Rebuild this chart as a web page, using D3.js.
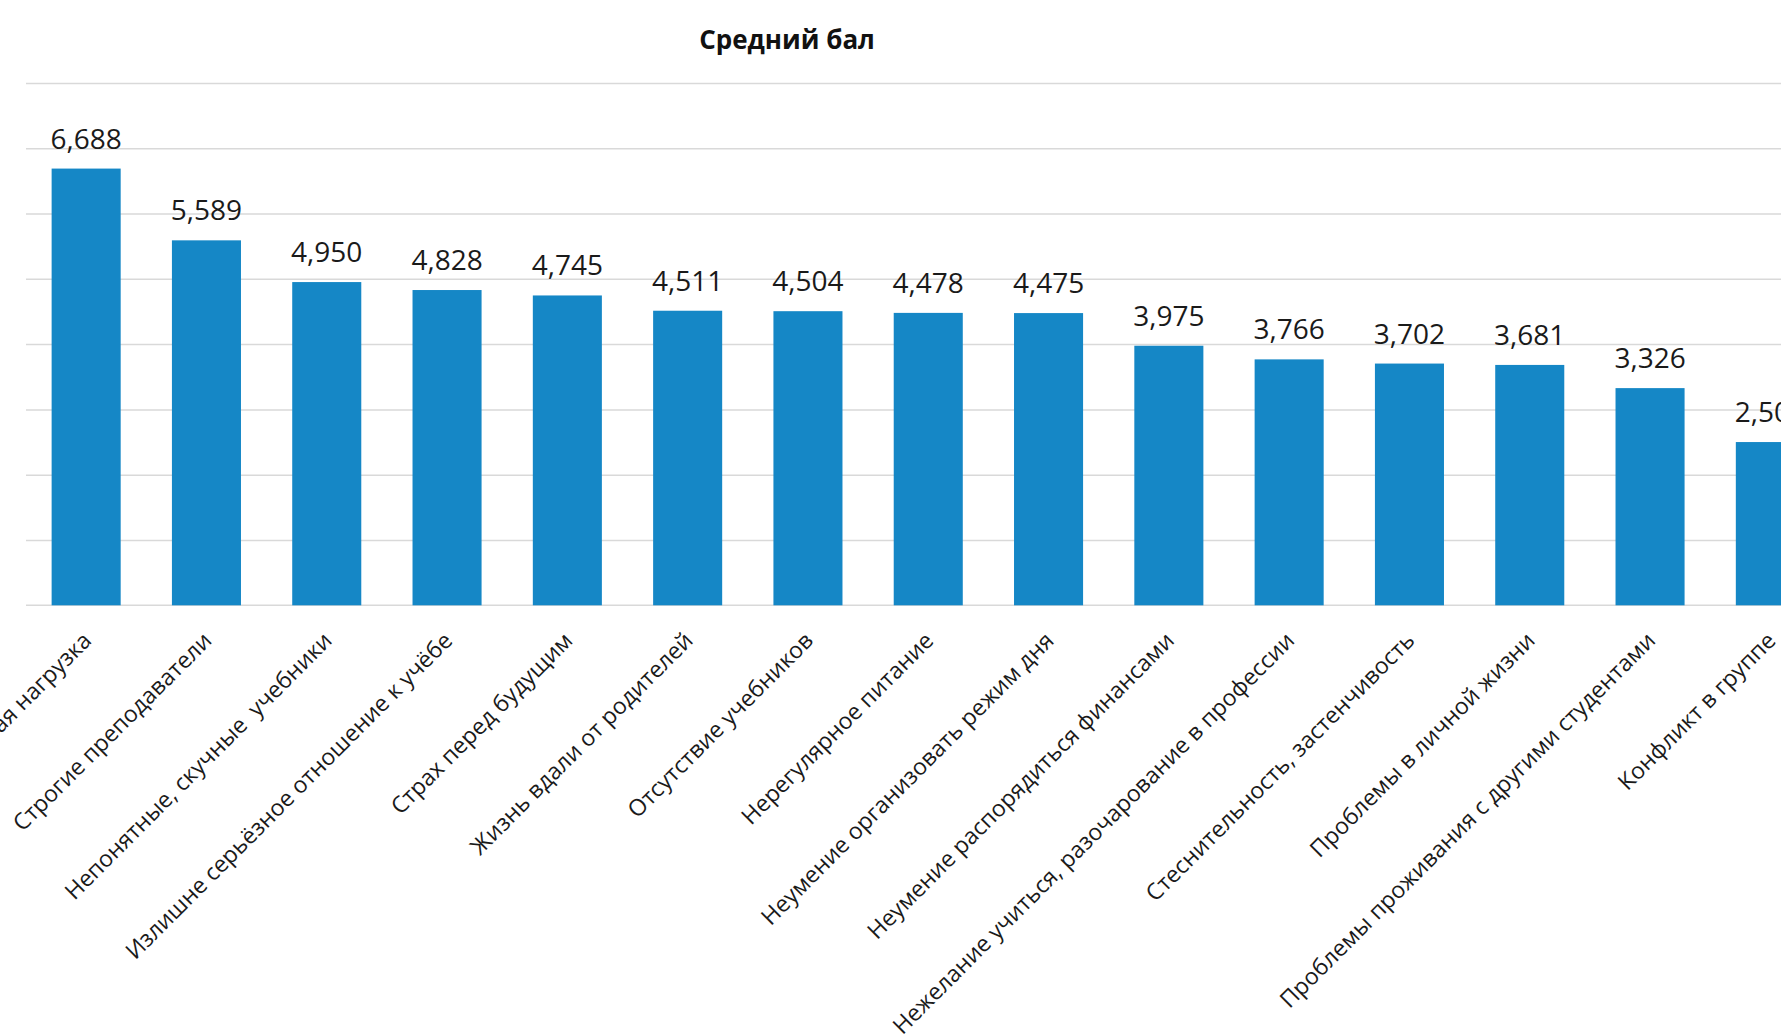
<!DOCTYPE html>
<html>
<head>
<meta charset="utf-8">
<script src="https://cdn.jsdelivr.net/npm/d3@7"></script>
<style>
  body { margin: 0; background: #fff; }
  svg { display: block; }
  text { font-family: "Open Sans", "Noto Sans", sans-serif; }
</style>
</head>
<body>
<svg id="chart" width="1781" height="1034"></svg>
<script>
const categories = [
  "Учебная нагрузка",
  "Строгие преподаватели",
  "Непонятные, скучные  учебники",
  "Излишне серьёзное отношение к учёбе",
  "Страх перед будущим",
  "Жизнь вдали от родителей",
  "Отсутствие учебников",
  "Нерегулярное питание",
  "Неумение организовать режим дня",
  "Неумение распорядиться финансами",
  "Нежелание учиться, разочарование в профессии",
  "Стеснительность, застенчивость",
  "Проблемы в личной жизни",
  "Проблемы проживания с другими студентами",
  "Конфликт в группе",
];
const values = [6.688, 5.589, 4.95, 4.828, 4.745, 4.511, 4.504, 4.478, 4.475, 3.975, 3.766, 3.702, 3.681, 3.326, 2.5];
const gridTicks = [1, 2, 3, 4, 5, 6, 7, 8];
const title = "Средний бал";

const data = categories.map((c, i) => ({ name: c, value: values[i] }));

const svg = d3.select("#chart");

const x0 = 26;
const step = 120.3;
const xScale = d3
  .scaleBand()
  .domain(categories)
  .range([x0, x0 + step * categories.length])
  .paddingInner(0.426)
  .paddingOuter(0.213);

const yScale = d3.scaleLinear().domain([0, 8]).range([605.3, 82.9]);

// horizontal grid lines
const grid = svg
  .append("g")
  .attr("transform", `translate(${x0}, 0)`)
  .call(d3.axisLeft(yScale).tickValues(gridTicks).tickSize(-(1781 - x0)).tickFormat(""));
grid.select(".domain").remove();
grid.selectAll(".tick line").attr("stroke", "#d9d9d9").attr("stroke-width", 1.5);

// category axis
const xAxis = svg
  .append("g")
  .attr("transform", `translate(0, ${yScale(0)})`)
  .call(d3.axisBottom(xScale).tickSize(0).tickSizeOuter(0));
xAxis.select(".domain").attr("stroke", "#d9d9d9").attr("stroke-width", 1.5)
  .attr("d", `M${x0},0H1781`);
xAxis
  .selectAll(".tick text")
  .attr("font-size", "23px")
  .attr("fill", "#1a1a1a")
  .attr("text-anchor", "end")
  .style("white-space", "pre")
  .attr("x", 0)
  .attr("y", 0)
  .attr("dy", "0.72em")
  .attr("transform", "translate(-5, 25) rotate(-45)");

svg.selectAll("rect.bar")
  .data(data)
  .join("rect")
  .attr("class", "bar")
  .attr("x", (d) => xScale(d.name))
  .attr("y", (d) => yScale(d.value))
  .attr("width", xScale.bandwidth())
  .attr("height", (d) => yScale(0) - yScale(d.value))
  .attr("fill", "#1587c6");

const fmt = (v) => d3.format(".3f")(v).replace(".", ",");

svg.selectAll("text.value")
  .data(data)
  .join("text")
  .attr("class", "value")
  .attr("x", (d) => xScale(d.name) + xScale.bandwidth() / 2)
  .attr("y", (d) => yScale(d.value) - 20)
  .attr("text-anchor", "middle")
  .attr("font-size", "28px")
  .attr("fill", "#1a1a1a")
  .text((d) => fmt(d.value));

svg.append("text")
  .attr("x", 787)
  .attr("y", 49)
  .attr("text-anchor", "middle")
  .attr("font-size", "26px")
  .attr("font-weight", "bold")
  .attr("fill", "#111")
  .text(title);
</script>
</body>
</html>
